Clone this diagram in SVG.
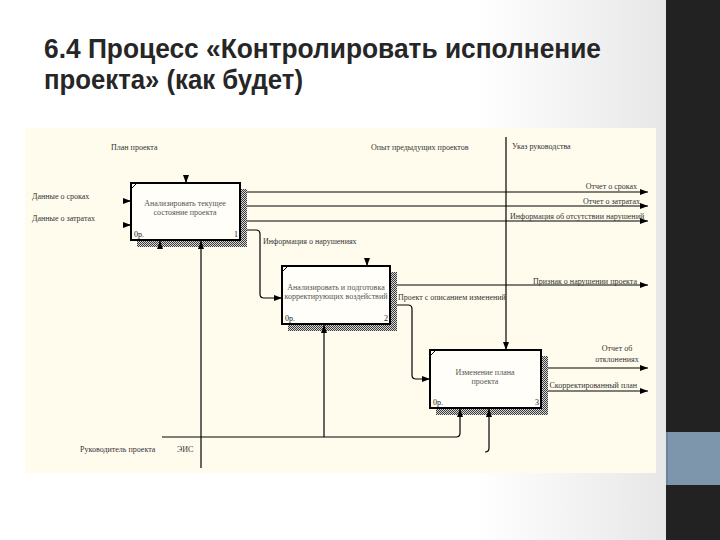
<svg xmlns="http://www.w3.org/2000/svg" width="720" height="540" viewBox="0 0 720 540">
<defs>
<linearGradient id="bg" x1="0" y1="0" x2="1" y2="0">
<stop offset="0" stop-color="#ffffff"/>
<stop offset="0.72" stop-color="#ffffff"/>
<stop offset="1" stop-color="#e7e7e7"/>
</linearGradient>
<pattern id="hatch" width="2" height="2" patternUnits="userSpaceOnUse">
<rect width="2" height="2" fill="#d8d8d8"/>
<rect width="1" height="1" fill="#3a3a3a"/>
<rect x="1" y="1" width="1" height="1" fill="#3a3a3a"/>
</pattern>
<marker id="arr" viewBox="0 0 8 6" refX="8" refY="3" markerWidth="8" markerHeight="6" markerUnits="userSpaceOnUse" orient="auto">
<path d="M0,0 L8,3 L0,6 z" fill="#000"/>
</marker>
</defs>
<style>
.title{font-family:"Liberation Sans Narrow","Liberation Sans",sans-serif;font-weight:bold;font-size:27px;fill:#262626}
.lbl{font-family:"Liberation Serif",serif;font-size:8px;fill:#333}
.btxt{font-family:"Liberation Serif",serif;font-size:8px;fill:#555;text-anchor:middle}
.num{font-family:"Liberation Serif",serif;font-size:8px;fill:#222}
.box{fill:#fffef8;stroke:#000;stroke-width:2}
.shadow{fill:url(#hatch)}
.c{fill:none;stroke:#000;stroke-width:1.2}
.a{marker-end:url(#arr)}
</style>
<rect x="0" y="0" width="666" height="540" fill="url(#bg)"/>
<rect x="666" y="0" width="54" height="540" fill="#222222"/>
<rect x="666" y="432" width="54" height="53" fill="#7d96ab"/>
<rect x="666" y="432" width="2" height="53" fill="#6a849b"/>
<text class="title" x="44" y="58" textLength="557" lengthAdjust="spacingAndGlyphs">6.4 Процесс «Контролировать исполнение</text>
<text class="title" x="44" y="89" textLength="259" lengthAdjust="spacingAndGlyphs">проекта» (как будет)</text>
<rect x="25" y="128" width="631" height="345" fill="#fffcee"/>

<g id="node1">
<rect class="shadow" x="137" y="189" width="110" height="58"/>
<rect class="box" x="131" y="183" width="109" height="57"/>
<line x1="131" y1="189" x2="137" y2="183" stroke="#000" stroke-width="1"/>
<text class="btxt" x="185" y="206">Анализировать текущее</text>
<text class="btxt" x="185" y="215">состояние проекта</text>
<text class="num" x="134" y="237">0р.</text>
<text class="num" x="234" y="237">1</text>
</g>

<g id="node2">
<rect class="shadow" x="288" y="272" width="109" height="59"/>
<rect class="box" x="282" y="266" width="108" height="58"/>
<line x1="282" y1="272" x2="288" y2="266" stroke="#000" stroke-width="1"/>
<text class="btxt" x="336" y="290">Анализировать и подготовка</text>
<text class="btxt" x="336" y="299">корректирующих воздействий</text>
<text class="num" x="285" y="321">0р.</text>
<text class="num" x="384" y="321">2</text>
</g>

<g id="node3">
<rect class="shadow" x="436" y="356" width="112" height="59"/>
<rect class="box" x="430" y="350" width="111" height="58" stroke-width="2.5"/>
<line x1="430" y1="356" x2="436" y2="350" stroke="#000" stroke-width="1"/>
<text class="btxt" x="485" y="375">Изменение плана</text>
<text class="btxt" x="485" y="384">проекта</text>
<text class="num" x="433" y="405">0р.</text>
<text class="num" x="535" y="405">3</text>
</g>

<g id="connectors">
<path class="c a" d="M247,192 H648"/>
<path class="c a" d="M247,206 H648"/>
<path class="c a" d="M247,221 H648"/>
<path class="c a" d="M247,230 H256 Q260,230 260,234 V294 Q260,298 264,298 H282"/>
<path class="c a" d="M397,285 H648"/>
<path class="c a" d="M397,305 H408 Q412,305 412,309 V375 Q412,379 416,379 H430"/>
<path class="c a" d="M506,137 V350"/>
<path class="c a" d="M548,368 H648"/>
<path class="c a" d="M548,391 H648"/>
<path class="c a" d="M162,437 H456 Q460,437 460,433 V409"/>
<path class="c a" d="M324,437 V325"/>
<path class="c a" d="M201,468 V241"/>
<path class="c a" d="M485,452 Q489,452 489,448 V409"/>
<path class="c a" d="M186,175 V183"/>
<path class="c a" d="M160,248 V241"/>
<path class="c a" d="M123,201 H131"/>
<path class="c a" d="M123,225 H131"/>
<path class="c a" d="M367,258 V266"/>
</g>

<g id="labels">
<text class="lbl" x="111" y="150">План проекта</text>
<text class="lbl" x="371" y="150">Опыт предыдущих проектов</text>
<text class="lbl" x="512" y="149">Указ руководства</text>
<text class="lbl" x="32" y="199">Данные о сроках</text>
<text class="lbl" x="32" y="221">Данные о затратах</text>
<text class="lbl" x="637" y="189" text-anchor="end">Отчет о сроках</text>
<text class="lbl" x="640" y="204" text-anchor="end">Отчет о затратах</text>
<text class="lbl" x="510" y="219">Информация об отсутствии нарушений</text>
<text class="lbl" x="263" y="244">Информация о нарушениях</text>
<text class="lbl" x="637" y="284" text-anchor="end">Признак о нарушении проекта</text>
<text class="lbl" x="398" y="300">Проект с описанием изменений</text>
<text class="lbl" x="617" y="351" text-anchor="middle">Отчет об</text>
<text class="lbl" x="617" y="362" text-anchor="middle">отклонениях</text>
<text class="lbl" x="637" y="388" text-anchor="end">Скорректированный план</text>
<text class="lbl" x="80" y="452">Руководитель проекта</text>
<text class="lbl" x="177" y="452">ЭИС</text>
</g>
</svg>
